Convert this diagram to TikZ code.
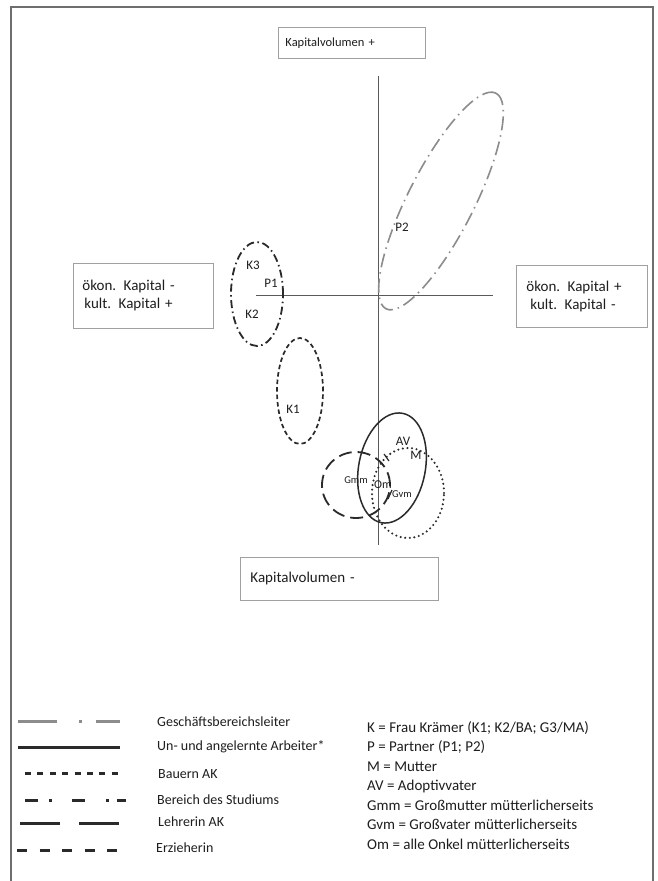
\documentclass[tikz,border=0pt]{standalone}
\usepackage{fontspec}
\setmainfont{Carlito}
\definecolor{txt}{HTML}{1E1E1E}
\definecolor{boxc}{HTML}{A0A0A0}
\definecolor{framec}{HTML}{6E6E6E}
\definecolor{axisc}{HTML}{5A5A5A}
\definecolor{greyline}{HTML}{8C8C8C}
\definecolor{ink}{HTML}{2A2A2A}
\begin{document}
\begin{tikzpicture}[x=1pt,y=-1pt,
  lbl/.style={inner sep=0pt, text=txt, font=\fontsize{13}{15}\selectfont},
  smalllbl/.style={inner sep=0pt, text=txt, font=\fontsize{10.5}{12}\selectfont},
  axbox/.style={draw=boxc, line width=0.9pt, text=txt, align=left, inner ysep=0pt},
  legtext/.style={anchor=west, inner sep=0pt, text=txt, font=\fontsize{14}{16}\selectfont},
  legline/.style={line width=3pt, ink},
  studium/.style={ink, line width=1.8pt, dash pattern=on 8pt off 3.5pt on 1.5pt off 3.5pt},
  geschaeft/.style={greyline, line width=1.6pt, dash pattern=on 14pt off 5pt on 1.5pt off 5pt},
  bauern/.style={ink, line width=1.7pt, dash pattern=on 4.5pt off 3pt},
  arbeiter/.style={ink, line width=1.5pt},
  erzieh/.style={ink, line width=1.8pt, dash pattern=on 13pt off 6pt},
  dots/.style={ink, line width=2.3pt, line cap=round, dash pattern=on 0pt off 4.6pt},
  axisline/.style={axisc, line width=1pt}
]
\useasboundingbox (0,0) rectangle (658,881);
\fill[white] (0,0) rectangle (658,881);
% outer frame
\draw[framec, line width=1.5pt] (11,881) -- (11,7) -- (653,7) -- (653,881);

% axis boxes
\node[axbox, anchor=north west, minimum width=147pt, minimum height=31pt, text width=133pt, inner xsep=7pt,
      font=\fontsize{12.5}{14}\selectfont] (top) at (278,27) {Kapitalvolumen +};
\node[axbox, anchor=north west, minimum width=198pt, minimum height=43pt, text width=178pt, inner xsep=10pt,
      font=\fontsize{15}{18}\selectfont] (bottom) at (240,557) {Kapitalvolumen -};
\node[axbox, anchor=north west, minimum width=140pt, minimum height=65pt, text width=122pt, inner xsep=9pt,
      font=\fontsize{15}{18}\selectfont] (left) at (73,263) {ökon. Kapital -\\\hspace*{2pt}kult. Kapital +};
\node[axbox, anchor=north west, minimum width=131pt, minimum height=62pt, text width=111pt, inner xsep=10pt,
      font=\fontsize{15}{18}\selectfont] (right) at (516,265) {ökon. Kapital +\\\hspace*{4pt}kult. Kapital -};

% axes
\coordinate (vtop) at (378,76);
\coordinate (vbot) at (378,545);
\coordinate (hl) at (256,295);
\coordinate (hr) at (493,295);
\draw[axisline] (vtop) -- (vbot);
\draw[axisline] (hl) -- (hr);

% ellipses
\draw[geschaeft, rotate around={63:(441,201)}] (441,201) ellipse [x radius=121pt, y radius=33pt];
\draw[studium] (257,294) ellipse [x radius=26pt, y radius=52pt];
\draw[bauern] (300,391) ellipse [x radius=23pt, y radius=53pt];
\draw[erzieh] (356,485) ellipse [x radius=34pt, y radius=33pt];
\draw[dots] (408,493) ellipse [x radius=36pt, y radius=45pt];
\draw[arbeiter, rotate around={-11:(392,468)}] (392,468) ellipse [x radius=33.3pt, y radius=55.7pt];

% small strokes
\draw[ink, line width=1.2pt] (384,454) -- (389,461);
\draw[ink, line width=1.2pt] (388,499) -- (392,490);

% labels
\node[lbl] (lP2) at (402,227) {P2};
\node[lbl] (lK3) at (253,265) {K3};
\node[lbl] (lP1) at (271,283) {P1};
\node[lbl] (lK2) at (252,314) {K2};
\node[lbl] (lK1) at (293,409) {K1};
\node[lbl] (lAV) at (403,441) {AV};
\node[lbl] (lM) at (416,455) {M};
\node[smalllbl] (lGmm) at (356,480) {Gmm};
\node[lbl, font=\fontsize{12}{14}\selectfont] (lOm) at (383,485) {Om};
\node[smalllbl] (lGvm) at (402,494) {Gvm};

% legend lines
\draw[legline, greyline] (18,721) -- (57,721);
\draw[legline, greyline] (79,721) -- (82,721);
\draw[legline, greyline] (96,721) -- (120,721);
\draw[legline] (18,747) -- (120,747);
\draw[legline, dash pattern=on 6pt off 6.4pt] (25,773) -- (119,773);
\draw[legline] (25,800) -- (38,800);
\draw[legline] (49,800) -- (52,800);
\draw[legline] (72,800) -- (85,800);
\draw[legline] (106,800) -- (109,800);
\draw[legline] (117,800) -- (126,800);
\draw[legline] (20,823) -- (60,823);
\draw[legline] (79,823) -- (119,823);
\draw[legline, dash pattern=on 10pt off 12.5pt] (17,850) -- (118,850);

% legend texts
\node[legtext] (t1) at (157,722) {Geschäftsbereichsleiter};
\node[legtext] (t2) at (157,747) {Un- und angelernte Arbeiter*};
\node[legtext] (t3) at (158,774) {Bauern AK};
\node[legtext] (t4) at (157,800) {Bereich des Studiums};
\node[legtext] (t5) at (158,822) {Lehrerin AK};
\node[legtext] (t6) at (156,848) {Erzieherin};

\node[anchor=west, inner sep=0pt, align=left, text=txt, font=\fontsize{15}{19.5}\selectfont] (key) at (367,785.5)
 {K = Frau Krämer (K1; K2/BA; G3/MA)\\
  P = Partner (P1; P2)\\
  M = Mutter\\
  AV = Adoptivvater\\
  Gmm = Großmutter mütterlicherseits\\
  Gvm = Großvater mütterlicherseits\\
  Om = alle Onkel mütterlicherseits};
\end{tikzpicture}
\end{document}
